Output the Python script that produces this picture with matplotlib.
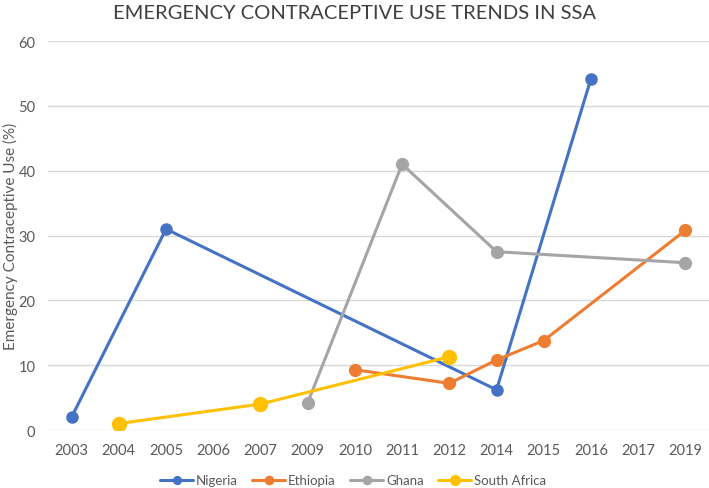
import numpy as np
import matplotlib
matplotlib.use("Agg")
import matplotlib.pyplot as plt

years = ["2003", "2004", "2005", "2006", "2007", "2009", "2010",
         "2011", "2012", "2014", "2015", "2016", "2017", "2019"]

# valeurs (None = pas de donnée)
nigeria = [2.0, None, 31.0, None, None, None, None, None, None, 6.2, None, 54.2, None, None]
ethiopia = [None, None, None, None, None, None, 9.3, None, 7.2, 10.8, 13.8, None, None, 30.8]
ghana = [None, None, None, None, None, 4.2, None, 41.0, None, 27.5, None, None, None, 25.8]
south_africa = [None, 1.0, None, None, 4.0, None, None, None, 11.3, None, None, None, None, None]

series = [
    ("Nigeria", nigeria, "#4472C4", 8),
    ("Ethiopia", ethiopia, "#ED7D31", 8.5),
    ("Ghana", ghana, "#A5A5A5", 8.5),
    ("South Africa", south_africa, "#FFC000", 10),
]

plt.rcParams['font.family'] = ['Lato', 'DejaVu Sans']

fig = plt.figure(figsize=(7.09, 4.89), dpi=100)
ax = fig.add_axes([0.0677, 0.1186, 0.9323, 0.7955])

x = np.arange(len(years))
for name, vals, color, ms in series:
    v = np.array([np.nan if a is None else a for a in vals])
    m = ~np.isnan(v)
    ax.plot(x[m], v[m], color=color, lw=2.2, marker="o", markersize=ms,
            label=name, solid_capstyle="round")

ax.set_xlim(-0.5, len(years) - 0.5)
ax.set_ylim(0, 60)
ax.set_yticks(range(0, 61, 10))
ax.set_xticks(x, years)
ax.grid(axis="y", color="#D9D9D9", lw=1)
ax.set_axisbelow(True)
for s in ax.spines.values():
    s.set_visible(False)
ax.tick_params(axis="both", length=0, labelsize=10.5, colors="#595959")
ax.tick_params(axis="x", pad=9)
ax.tick_params(axis="y", pad=9)

fig.text(0.015, 0.516, "Emergency Contraceptive Use (%)", rotation=90,
         ha="center", va="center", fontsize=11, color="#595959")
fig.text(0.5, 0.972, "EMERGENCY CONTRACEPTIVE USE TRENDS IN SSA",
         ha="center", va="center", fontsize=14.5, color="#404040")

fig.legend(loc="center", bbox_to_anchor=(0.498, 0.016), ncol=4, frameon=False,
           fontsize=9.5, handlelength=2.5, columnspacing=1.1, handletextpad=0.2,
           labelcolor="#595959", markerscale=0.7)

fig.savefig("out.png", dpi=100)
